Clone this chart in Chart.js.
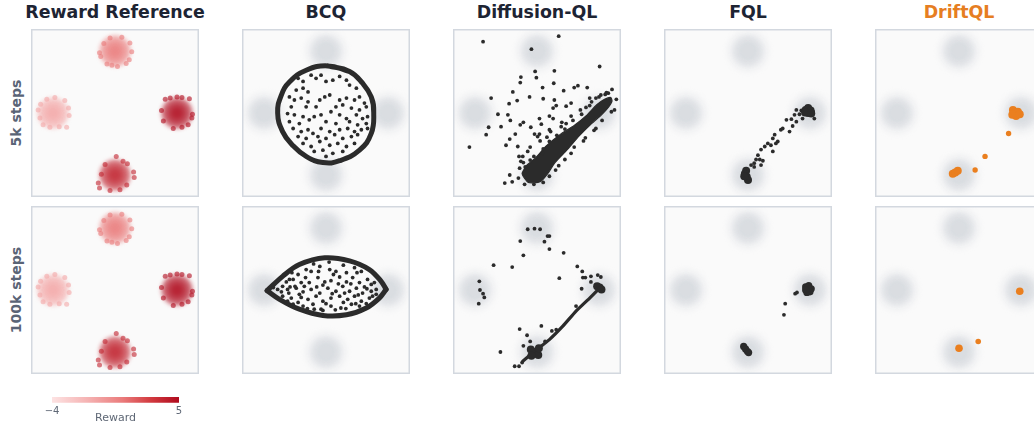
<!DOCTYPE html>
<html>
<head>
<meta charset="utf-8">
<script src="https://cdn.jsdelivr.net/npm/chart.js@4.4.1/dist/chart.umd.min.js"></script>
<style>
  html, body { margin: 0; padding: 0; background: #ffffff; overflow: hidden; }
  #fig { position: relative; width: 1100px; height: 427px; font-family: "DejaVu Sans", sans-serif; }
  .col-title { position: absolute; width: 240px; text-align: center; font-weight: bold; font-size: 17.4px;
               line-height: 20px; color: #1d2433; white-space: nowrap; }
  .row-label { position: absolute; width: 200px; height: 16px; text-align: center; font-weight: bold;
               font-size: 14px; line-height: 16px; color: #5a6476; white-space: nowrap; transform: rotate(-90deg); }
  canvas { position: absolute; }
</style>
</head>
<body>
<div id="fig"></div>
<script>
// ---------- labels ----------
const methods = ['Reward Reference', 'BCQ', 'Diffusion-QL', 'FQL', 'DriftQL'];
const rowLabels = ['5k steps', '100k steps'];

// ---------- reward landscape ----------
const rewardRange = [-4, 5];
const colorbarTicks = [-4, 5];
const rewardStops = [[-4, '#fde3e3'], [-1.5, '#f5b3b3'], [1, '#ea7b7b'], [3, '#d23a3f'], [5, '#b00b1e']];

// four modes of the 2-D action space: top, left, right, bottom
const modeCenters = [[0, 1], [-1, 0], [1, 0], [0, -1]];
const modeRewards = [1, -1, 5, 4];
const modeFringeTop = [[-0.25, 0.97], [-0.23, 0.91], [-0.13, 0.79], [-0.05, 0.77], [0.04, 0.75], [0.24, 1.13],
  [0.27, 0.99], [0.23, 0.86], [-0.08, 1.21], [0.11, 1.22], [-0.18, 1.12], [0.18, 0.80]];
const modeFringeLeft = [[-1.24, 0.05], [-1.21, -0.08], [-1.16, -0.19], [-1.05, -0.23], [-0.90, -0.22], [-0.78, -0.23],
  [-0.81, 0.20], [-0.75, 0.08], [-0.74, -0.04], [-1.10, 0.22], [-0.97, 0.25], [-1.20, 0.14]];
const modeFringeRight = [[0.81, 0.22], [0.89, 0.24], [1.08, 0.25], [1.20, 0.23], [1.25, -0.02], [1.24, -0.08],
  [1.18, -0.19], [1.08, -0.23], [0.94, -0.25], [0.78, -0.13], [0.75, 0.04], [1.00, 0.26]];
const modeFringeBottom = [[0.02, -0.70], [0.13, -0.78], [0.20, -0.82], [0.30, -0.95], [0.31, -1.04], [0.19, -1.16],
  [0.08, -1.24], [-0.08, -1.25], [-0.25, -1.21], [-0.27, -1.13], [-0.22, -0.99], [-0.16, -0.83]];

// ---------- BCQ ----------
const bcq5kRing = [[0.03, 0.76], [0.38, 0.67], [0.59, 0.48], [0.73, 0.26], [0.77, 0.00], [0.73, -0.33], [0.54, -0.60],
  [0.22, -0.77], [-0.05, -0.80], [-0.32, -0.70], [-0.54, -0.52], [-0.70, -0.30], [-0.78, 0.00], [-0.72, 0.29],
  [-0.59, 0.50], [-0.32, 0.69]];
const bcq5kInner = [
  [-0.45, 0.56], [-0.37, 0.51], [-0.24, 0.61], [-0.16, 0.56], [-0.08, 0.61], [0.00, 0.51], [0.11, 0.53], [0.22, 0.59],
  [0.33, 0.53], [0.38, 0.45], [0.49, 0.40], [-0.37, 0.40], [-0.29, 0.34], [-0.48, 0.37],
  [-0.59, 0.26], [-0.51, 0.21], [-0.40, 0.24], [-0.29, 0.18], [-0.10, 0.21], [-0.02, 0.26], [0.06, 0.29], [0.22, 0.21],
  [0.33, 0.24], [0.46, 0.21], [0.54, 0.26], [0.62, 0.16],
  [-0.56, 0.10], [-0.32, 0.10], [-0.16, 0.10], [0.16, 0.10], [0.27, 0.13], [0.41, 0.08], [0.54, 0.05], [0.65, 0.10],
  [-0.62, -0.01], [-0.51, -0.03], [-0.37, -0.06], [-0.19, -0.06], [-0.08, -0.03], [0.08, 0.02], [0.22, -0.03],
  [0.33, -0.09], [0.49, -0.03], [0.59, -0.09], [0.67, -0.06],
  [-0.59, -0.14], [-0.43, -0.17], [-0.27, -0.11], [0.00, -0.14], [0.16, -0.17], [0.38, -0.14], [0.51, -0.19], [0.65, -0.17],
  [-0.53, -0.25], [-0.40, -0.30], [-0.29, -0.27], [-0.21, -0.33], [-0.08, -0.25], [0.06, -0.30], [0.22, -0.27],
  [0.35, -0.25], [0.46, -0.30], [0.57, -0.27], [0.67, -0.25],
  [-0.45, -0.38], [-0.32, -0.41], [-0.13, -0.38], [0.00, -0.41], [0.14, -0.35], [0.27, -0.41], [0.41, -0.38], [0.51, -0.35],
  [-0.37, -0.49], [-0.24, -0.54], [-0.10, -0.46], [0.06, -0.52], [0.19, -0.49], [0.33, -0.54], [0.46, -0.49],
  [-0.19, -0.62], [-0.05, -0.60], [0.11, -0.65], [0.27, -0.62], [0.00, -0.70]];
const bcq100kUpper = [[-0.95, -0.01], [-0.70, 0.22], [-0.43, 0.41], [-0.02, 0.52], [0.38, 0.47], [0.70, 0.33], [0.89, 0.14], [0.97, 0.01]];
const bcq100kLower = [[-0.95, -0.01], [-0.75, -0.15], [-0.43, -0.31], [-0.05, -0.41], [0.33, -0.40], [0.65, -0.29], [0.86, -0.13], [0.97, 0.01]];
const bcq100kInner = [
  [-0.32, 0.33], [-0.24, 0.30], [-0.10, 0.38], [0.06, 0.33], [0.16, 0.30], [0.33, 0.28], [0.46, 0.36], [0.57, 0.30],
  [-0.45, 0.25], [-0.59, 0.17],
  [-0.64, 0.13], [-0.53, 0.17], [-0.40, 0.12], [-0.27, 0.12], [-0.13, 0.20], [-0.02, 0.13], [0.08, 0.15], [0.22, 0.21],
  [0.33, 0.13], [0.43, 0.20], [0.54, 0.12], [0.67, 0.17], [0.73, 0.09], [-0.70, 0.06],
  [-0.78, 0.01], [-0.62, 0.01], [-0.48, 0.03], [-0.37, -0.03], [-0.24, 0.01], [-0.10, -0.05], [0.03, 0.03], [0.16, -0.02],
  [0.27, 0.06], [0.38, -0.02], [0.49, 0.03], [0.59, -0.05], [0.73, -0.02], [0.81, 0.01],
  [-0.70, -0.10], [-0.56, -0.13], [-0.43, -0.07], [-0.29, -0.15], [-0.16, -0.10], [-0.05, -0.18], [0.08, -0.13],
  [0.22, -0.10], [0.35, -0.15], [0.46, -0.10], [0.57, -0.18], [0.70, -0.13], [0.81, -0.07],
  [-0.53, -0.23], [-0.37, -0.26], [-0.21, -0.23], [-0.08, -0.31], [0.08, -0.26], [0.24, -0.29], [0.41, -0.23],
  [0.54, -0.26], [-0.19, -0.31], [-0.05, -0.33],
  [-0.50, 0.06], [-0.33, 0.20], [0.12, 0.25], [0.28, -0.20], [0.62, 0.05], [-0.15, 0.05], [0.00, -0.22],
  [0.40, 0.10], [-0.60, -0.05], [0.65, -0.22],
  [-0.55, 0.28], [-0.20, 0.42], [0.05, 0.45], [0.28, 0.40], [0.50, 0.28], [0.78, 0.12], [-0.85, 0.04], [-0.72, -0.03],
  [-0.58, 0.05], [-0.35, 0.06], [-0.05, 0.08], [0.10, -0.06], [0.30, -0.05], [0.52, -0.08], [0.66, 0.02], [-0.62, -0.18],
  [-0.45, -0.20], [-0.30, -0.30], [0.15, -0.32], [0.32, -0.30], [0.48, -0.22], [0.75, -0.10], [-0.12, 0.30], [0.20, 0.10],
  [-0.40, -0.12]];

// ---------- Diffusion-QL ----------
const dql5kBand = [[-0.24, -0.98], [-0.17, -0.85], [-0.02, -0.72], [0.15, -0.53], [0.37, -0.35], [0.60, -0.20], [0.80, -0.04],
  [0.96, 0.13], [1.09, 0.22], [1.19, 0.25], [1.21, 0.19], [1.15, 0.09], [1.04, -0.03], [0.88, -0.17], [0.68, -0.37],
  [0.48, -0.60], [0.29, -0.80], [0.17, -0.98], [0.05, -1.11], [-0.14, -1.12]];
const dql5kFringe = [[-0.15, -0.62], [0.05, -0.45], [0.22, -0.30], [0.40, -0.15], [0.55, -0.05], [0.70, 0.05], [0.88, 0.18],
  [1.10, 0.30], [1.15, 0.32], [0.95, -0.25], [0.75, -0.45], [0.55, -0.65], [0.35, -0.85], [0.20, -1.02], [-0.05, -1.15],
  [-0.30, -1.05], [1.28, 0.22], [1.25, 0.05],
  [-0.22, -0.80], [-0.05, -0.70], [0.10, -0.58], [0.20, -0.46], [0.32, -0.36], [0.45, -0.26], [0.58, -0.12],
  [0.72, -0.02], [0.85, 0.12], [1.00, 0.26], [1.12, 0.33], [0.30, -0.92], [0.45, -0.75], [0.60, -0.55], [0.78, -0.40],
  [0.92, -0.28], [1.05, -0.12], [1.20, 0.02], [0.10, -1.12], [-0.20, -1.15]];
const dql5kPoints = [
  [-0.87, 1.15], [0.35, 1.24], [-0.09, 1.03], [1.01, 0.75], [0.28, 0.68], [-0.03, 0.67], [-0.26, 0.58], [-0.01, 0.57],
  [-0.27, 0.49], [0.27, 0.48], [0.60, 0.41], [0.81, 0.41], [0.66, 0.44], [1.21, 0.38], [0.43, 0.36], [0.09, 0.41],
  [-0.39, 0.34], [-0.12, 0.26], [0.10, 0.23], [-0.32, 0.20], [-0.74, 0.24], [-0.45, 0.15], [0.28, 0.21], [0.31, 0.12],
  [0.47, 0.11], [0.55, 0.16], [0.26, 0.08], [0.85, 0.24], [0.95, 0.24], [1.03, 0.29], [0.79, 0.09], [-0.63, -0.02],
  [-0.47, -0.03], [-0.43, -0.12], [-0.58, -0.22], [-0.78, -0.23], [-0.27, -0.19], [-0.10, -0.23], [-0.22, -0.15],
  [0.20, -0.05], [0.26, -0.09], [0.04, -0.09], [0.07, -0.18], [0.04, -0.34], [-0.04, -0.34], [0.16, -0.39],
  [-1.09, -0.55], [-0.82, -0.35], [-0.44, -0.42], [-0.50, -0.52], [-0.35, -0.34], [-0.31, -0.54], [-0.11, -0.55],
  [-0.23, -0.70], [-0.11, -0.76], [-0.29, -0.70], [-0.26, -0.78], [-0.28, -0.89], [-0.40, -1.11], [-0.52, -1.13],
  [-0.44, -1.00], [-0.19, -0.87], [0.01, -0.38], [0.09, -0.65], [0.20, -0.27], [0.39, -0.22], [0.47, -0.17]];
const dql100kPath = [[-0.23, -1.15], [-0.04, -0.99], [0.20, -0.80], [0.42, -0.58], [0.63, -0.34], [0.85, -0.13], [1.01, 0.03]];
const dql100kCores = [[-0.04, -1.00], [-0.10, -0.96], [0.02, -1.05], [-0.09, -1.06], [0.03, -0.94], [1.01, 0.04], [0.97, 0.06], [1.04, 0.01]];
const dql100kPoints = [
  [-0.15, 0.98], [-0.04, 0.99], [0.05, 0.98], [0.17, 0.87], [0.20, 0.87], [-0.27, 0.79], [0.12, 0.78], [0.20, 0.66],
  [0.43, 0.60], [-0.22, 0.56], [-0.70, 0.40], [-0.40, 0.37], [0.65, 0.38], [0.73, 0.30], [0.74, 0.20], [0.78, 0.20],
  [0.87, 0.22], [0.98, 0.24], [1.03, 0.21], [0.87, 0.13], [0.36, 0.19], [0.72, 0.02], [-0.93, 0.14], [-0.92, 0.00],
  [-0.87, -0.06], [-0.85, -0.12], [-0.94, -0.22], [0.63, -0.26], [0.07, -0.58], [-0.28, -0.63], [-0.16, -0.73],
  [0.24, -0.66], [0.31, -0.64], [-0.22, -0.90], [-0.59, -1.00], [-0.36, -1.23], [-0.29, -1.23], [-0.24, -1.17],
  [-0.11, -0.83], [0.13, -0.83]];

// ---------- FQL ----------
const fql5kCores = [[0.93, 0.05], [0.97, 0.08], [1.01, 0.04], [0.97, 0.00], [0.92, 0.01], [1.02, -0.01],
  [-0.03, -0.93], [-0.05, -0.98], [-0.02, -1.03], [0.00, -1.08], [-0.06, -1.02]];
const fql5kPoints = [[0.78, 0.05], [0.75, -0.03], [0.83, -0.02], [0.88, -0.09], [0.70, -0.10], [0.62, -0.11], [0.78, -0.14],
  [0.72, -0.21], [0.67, -0.30], [0.53, -0.27], [0.43, -0.35], [0.40, -0.41], [0.48, -0.46], [0.45, -0.49], [0.37, -0.52],
  [0.32, -0.49], [0.27, -0.54], [0.21, -0.59], [0.40, -0.62], [0.16, -0.68], [0.13, -0.75], [0.10, -0.81], [0.19, -0.75],
  [0.24, -0.77], [0.21, -0.84], [0.10, -0.87], [0.05, -0.84], [1.07, -0.09], [1.05, 0.02], [0.86, 0.04], [0.56, -0.25]];
const fql100kCores = [[0.93, 0.05], [0.98, 0.07], [1.02, 0.02], [1.00, -0.03], [0.95, -0.04], [0.93, 0.00],
  [-0.07, -0.91], [-0.04, -0.95], [-0.01, -0.99], [0.01, -1.01]];
const fql100kPoints = [[0.76, -0.06], [0.79, -0.04], [0.60, -0.22], [0.58, -0.40]];

// ---------- DriftQL ----------
const drift5kCores = [[0.87, 0.05], [0.95, 0.02], [0.92, -0.05], [0.86, -0.03], [0.98, -0.02],
  [-0.10, -0.98], [-0.06, -0.96], [-0.02, -0.93]];
const drift5kPoints = [[0.80, -0.33], [0.42, -0.70], [0.26, -0.92]];
const drift100kCores = [[0.98, -0.02], [0.00, -0.94]];
const drift100kPoints = [[0.31, -0.83]];

// ---------- styling ----------
const LIM = 1.355;
const INK = '#2b2b2b';
const DRIFT = '#ea7f1f';
const GREY = [213, 216, 222];
const PANEL_BG = '#fafafa';
const PANEL_EDGE = '#d3d8df';
const panelLefts = [31, 242, 453, 664, 875];
const panelTops = [29, 206];
const PANEL = 168;

// scatter panels keep their full area: big soft markers may run past the frame and get clipped
Chart.registry.getController('scatter').prototype.getMaxOverflow = function () { return 0; };

function hexRgb(h) { const n = parseInt(h.slice(1), 16); return [n >> 16 & 255, n >> 8 & 255, n & 255]; }
function rewardRgb(v) {
  const s = rewardStops;
  if (v <= s[0][0]) return hexRgb(s[0][1]);
  for (let i = 1; i < s.length; i++) {
    if (v <= s[i][0]) {
      const t = (v - s[i - 1][0]) / (s[i][0] - s[i - 1][0]);
      const a = hexRgb(s[i - 1][1]), b = hexRgb(s[i][1]);
      return a.map((c, k) => Math.round(c + (b[k] - c) * t));
    }
  }
  return hexRgb(s[s.length - 1][1]);
}
const rgba = (c, a) => `rgba(${c[0]},${c[1]},${c[2]},${a})`;
const pts = a => a.map(([x, y]) => ({ x, y }));

function dots(data, color, radius, extra = {}) {
  return Object.assign({ data: pts(data), backgroundColor: color, pointRadius: radius, pointHoverRadius: radius,
    pointBorderWidth: 0, showLine: false }, extra);
}
function path(data, color, width, extra = {}) {
  return Object.assign({ data: pts(data), borderColor: color, borderWidth: width, pointRadius: 0, pointHoverRadius: 0,
    showLine: true, tension: 0.4, fill: false, borderJoinStyle: 'round', borderCapStyle: 'round' }, extra);
}
const closeLoop = a => a.concat(a.slice(0, 2));

// the behaviour data, drawn as soft grey clouds behind each policy
function behaviourLayers() {
  return [
    dots(modeCenters, rgba(GREY, 0.3), 20, { blur: 3 }),
    dots(modeCenters, rgba(GREY, 0.6), 14.5, { blur: 2 }),
    dots(modeCenters, rgba(GREY, 0.55), 9, { blur: 1 })
  ];
}
function referenceLayers() {
  const modeRgb = modeRewards.map(rewardRgb);
  const fringes = [modeFringeTop, modeFringeLeft, modeFringeRight, modeFringeBottom];
  return [
    dots(modeCenters, modeRgb.map(c => rgba(c, 0.6)), 15.5, { blur: 2 }),
    dots(modeCenters, modeRgb.map(c => rgba(c, 0.45)), 10.5, { blur: 2 }),
    dots(modeCenters, modeRgb.map(c => rgba(c, 0.5)), 6, { blur: 2 }),
    ...fringes.map((f, i) => dots(f, rgba(modeRgb[i], 0.6), 2.5))
  ];
}

const panels = [
  [
    referenceLayers(),
    [...behaviourLayers(), path(closeLoop(bcq5kRing), INK, 5, { tension: 0.45 }), dots(bcq5kInner, INK, 1.9)],
    [...behaviourLayers(), path(closeLoop(dql5kBand), INK, 1.2, { tension: 0.2, fill: 'shape', backgroundColor: INK }),
      dots(dql5kFringe, INK, 1.9), dots(dql5kPoints, INK, 1.9)],
    [...behaviourLayers(), dots(fql5kPoints, INK, 1.9), dots(fql5kCores, INK, 4)],
    [...behaviourLayers(), dots(drift5kPoints, DRIFT, 2.7), dots(drift5kCores, DRIFT, 4)]
  ],
  [
    referenceLayers(),
    [...behaviourLayers(), path(bcq100kUpper, INK, 5, { tension: 0.35 }), path(bcq100kLower, INK, 5, { tension: 0.35 }),
      dots(bcq100kInner, INK, 1.9)],
    [...behaviourLayers(), path(dql100kPath, INK, 3.2, { tension: 0.1 }), dots(dql100kPoints, INK, 1.9), dots(dql100kCores, INK, 4)],
    [...behaviourLayers(), dots(fql100kPoints, INK, 1.9), dots(fql100kCores, INK, 3.6)],
    [...behaviourLayers(), dots(drift100kPoints, DRIFT, 2.8), dots(drift100kCores, DRIFT, 3.8)]
  ]
];

const panelFrame = {
  id: 'panelFrame',
  beforeDraw(chart) {
    const { ctx, chartArea: a } = chart;
    ctx.save(); ctx.fillStyle = PANEL_BG; ctx.fillRect(a.left, a.top, a.width, a.height); ctx.restore();
  },
  afterDraw(chart) {
    const { ctx, chartArea: a } = chart;
    ctx.save(); ctx.strokeStyle = PANEL_EDGE; ctx.lineWidth = 1.5;
    ctx.strokeRect(a.left + 0.75, a.top + 0.75, a.width - 1.5, a.height - 1.5); ctx.restore();
  }
};
const softDraw = {
  id: 'softDraw',
  beforeDatasetDraw(chart, args) {
    const ds = chart.data.datasets[args.index];
    if (ds.blur) { chart.ctx.save(); chart.ctx.filter = `blur(${ds.blur}px)`; }
  },
  afterDatasetDraw(chart, args) {
    const ds = chart.data.datasets[args.index];
    if (ds.blur) chart.ctx.restore();
  }
};

const fig = document.getElementById('fig');

function addCanvas(left, top, w, h) {
  const c = document.createElement('canvas');
  c.width = w; c.height = h;
  c.style.left = left + 'px'; c.style.top = top + 'px';
  c.style.width = w + 'px'; c.style.height = h + 'px';
  fig.appendChild(c);
  return c;
}

panels.forEach((row, r) => {
  row.forEach((layers, k) => {
    const n = layers.length;
    layers.forEach((ds, i) => { ds.order = n - i; });   // first layer sits at the back
    const canvas = addCanvas(panelLefts[k] - 1, panelTops[r] - 1, PANEL + 2, PANEL + 2);
    new Chart(canvas, {
      type: 'scatter',
      data: { datasets: layers },
      options: {
        responsive: false, animation: false, events: [], devicePixelRatio: 1,
        layout: { padding: 1 },
        scales: {
          x: { type: 'linear', min: -LIM, max: LIM, display: false },
          y: { type: 'linear', min: -LIM, max: LIM, display: false }
        },
        plugins: { legend: { display: false }, tooltip: { enabled: false } }
      },
      plugins: [panelFrame, softDraw]
    });
  });
});

// column titles and row labels
methods.forEach((m, k) => {
  const d = document.createElement('div');
  d.className = 'col-title';
  d.textContent = m;
  d.style.left = (panelLefts[k] + PANEL / 2 - 120) + 'px';
  d.style.top = '2.3px';
  if (m === 'DriftQL') d.style.color = '#e67e22';
  fig.appendChild(d);
});
rowLabels.forEach((t, r) => {
  const d = document.createElement('div');
  d.className = 'row-label';
  d.textContent = t;
  d.style.left = (16.2 - 100) + 'px';
  d.style.top = (panelTops[r] + PANEL / 2 - 8) + 'px';
  fig.appendChild(d);
});

// reward colour bar
const cb = addCanvas(30, 385, 170, 40);
new Chart(cb, {
  type: 'bar',
  data: {
    labels: ['Reward'],
    datasets: [{
      data: [rewardRange],
      backgroundColor(c) {
        const a = c.chart.chartArea;
        if (!a) return rgba(rewardRgb(0), 1);
        const g = c.chart.ctx.createLinearGradient(a.left, 0, a.right, 0);
        rewardStops.forEach(([v, col]) => g.addColorStop((v - rewardRange[0]) / (rewardRange[1] - rewardRange[0]), col));
        return g;
      },
      borderWidth: 0, barPercentage: 1, categoryPercentage: 1, borderSkipped: false
    }]
  },
  options: {
    indexAxis: 'y', responsive: false, animation: false, events: [], devicePixelRatio: 1,
    layout: { padding: { left: 22, right: 21, top: 12, bottom: 0 } },
    scales: {
      x: {
        type: 'linear', min: rewardRange[0], max: rewardRange[1],
        grid: { display: false }, border: { display: false },
        afterBuildTicks(s) { s.ticks = colorbarTicks.map(v => ({ value: v })); },
        afterFit(s) { s.height = 22.2; },
        ticks: { autoSkip: false, padding: -5, maxRotation: 0, color: '#5f6876',
                 font: { family: 'DejaVu Sans', size: 10 },
                 callback: v => String(v).replace('-', '\u2212') },
        title: { display: true, text: 'Reward', color: '#5f6876', font: { family: 'DejaVu Sans', size: 11 },
                 padding: { top: -3, bottom: 0 } }
      },
      y: { display: false }
    },
    plugins: { legend: { display: false }, tooltip: { enabled: false } }
  }
});
</script>
</body>
</html>
